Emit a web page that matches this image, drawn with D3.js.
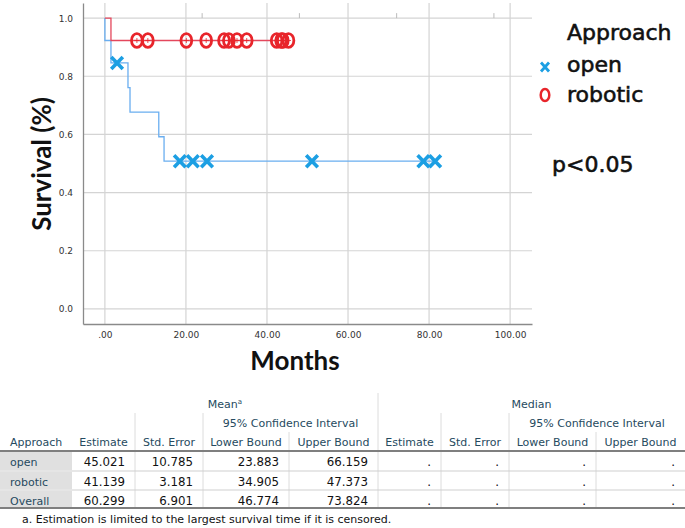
<!DOCTYPE html>
<html>
<head>
<meta charset="utf-8">
<script src="https://cdn.jsdelivr.net/npm/d3@7"></script>
<style>
  body { margin: 0; background: #fff; }
  svg { display: block; }
</style>
</head>
<body>
<div id="chart"></div>
<script>
// Kaplan-Meier curves (months, survival after each event)
var openEventTimes = [0, 1.5, 5.7, 6.2, 13.3, 14.6];
var openSurvival = [0.923, 0.846, 0.761, 0.677, 0.592, 0.508];
var openEnd = 81.5;
var openCensored = [3.0, 18.5, 21.7, 25.2, 51.1, 78.6, 81.5];

var roboticEventTimes = [1.5];
var roboticSurvival = [0.923];
var roboticEnd = 45.3;
var roboticCensored = [7.9, 10.6, 20.1, 25.0, 29.4, 30.6, 32.6, 35.0, 42.4, 43.5, 43.9, 45.3];

var xTicks = [0, 20, 40, 60, 80, 100];
var yTicks = [0, 0.2, 0.4, 0.6, 0.8, 1.0];
var topTicks = [24, 48, 72, 96];

// table
var rowLabels = ["open", "robotic", "Overall"];
var meanEstimate = ["45.021", "41.139", "60.299"];
var meanStdError = ["10.785", "3.181", "6.901"];
var meanLower = ["23.883", "34.905", "46.774"];
var meanUpper = ["66.159", "47.373", "73.824"];
var medianEstimate = [".", ".", "."];
var medianStdError = [".", ".", "."];
var medianLower = [".", ".", "."];
var medianUpper = [".", ".", "."];
var colHeaders = ["Approach", "Estimate", "Std. Error", "Lower Bound", "Upper Bound",
                  "Estimate", "Std. Error", "Lower Bound", "Upper Bound"];

var W = 685, H = 528;
var svg = d3.select("#chart").append("svg").attr("width", W).attr("height", H);

var x = d3.scaleLinear().domain([-5.4, 105.4]).range([83, 532]);
var y = d3.scaleLinear().domain([-0.052, 1.052]).range([324, 3]);

var blueMark = "#1c9fe3", blueLine = "#6aaef0";
var redMark = "#e8252b", redLine = "#e4475c";
var gridCol = "#d4d4d4";

// gridlines
svg.append("g").selectAll("line").data(yTicks).enter().append("line")
  .attr("x1", x.range()[0]).attr("x2", x.range()[1])
  .attr("y1", d => y(d)).attr("y2", d => y(d))
  .attr("stroke", gridCol).attr("stroke-width", 1.2);
svg.append("g").selectAll("line").data(xTicks).enter().append("line")
  .attr("x1", d => x(d)).attr("x2", d => x(d))
  .attr("y1", y.range()[1]).attr("y2", y.range()[0])
  .attr("stroke", gridCol).attr("stroke-width", 1.2);
svg.append("g").selectAll("line").data(topTicks).enter().append("line")
  .attr("x1", d => x(d)).attr("x2", d => x(d))
  .attr("y1", y(1) - 5).attr("y2", y(1))
  .attr("stroke", "#bbb").attr("stroke-width", 1);

// axes
var xAxis = svg.append("g").attr("transform", "translate(0," + y.range()[0] + ")")
  .call(d3.axisBottom(x).tickValues(xTicks).tickSize(0).tickPadding(8)
    .tickFormat(d => d === 0 ? ".00" : d3.format(".2f")(d)));
var yAxis = svg.append("g").attr("transform", "translate(" + x.range()[0] + ",0)")
  .call(d3.axisLeft(y).tickValues(yTicks).tickSize(0).tickPadding(10).tickFormat(d3.format(".1f")));
[xAxis, yAxis].forEach(function(a) {
  a.select(".domain").attr("stroke", "#8a8a8a").attr("stroke-width", 1.3);
  a.selectAll("text").attr("font-family", "DejaVu Sans").attr("font-size", 9).attr("fill", "#333");
});

// step curves
var step = d3.line().x(d => x(d[0])).y(d => y(d[1])).curve(d3.curveStepAfter);
function kmPoints(times, surv, end) {
  var pts = [[0, 1]];
  times.forEach(function(t, i) { pts.push([t, surv[i]]); });
  pts.push([end, surv[surv.length - 1]]);
  return pts;
}
function survAt(times, surv, t) {
  var s = 1;
  times.forEach(function(tt, i) { if (tt <= t) s = surv[i]; });
  return s;
}

svg.append("path").datum(kmPoints(openEventTimes, openSurvival, openEnd))
  .attr("d", step).attr("fill", "none").attr("stroke", blueLine).attr("stroke-width", 1.3);
svg.append("path").datum(kmPoints(roboticEventTimes, roboticSurvival, roboticEnd))
  .attr("d", step).attr("fill", "none").attr("stroke", redLine).attr("stroke-width", 1.3);

// censor marks: robotic circles with a small plus inside
var rob = svg.append("g").selectAll("g").data(roboticCensored).enter().append("g")
  .attr("transform", d => "translate(" + x(d) + "," + y(survAt(roboticEventTimes, roboticSurvival, d)) + ")");
rob.append("ellipse").attr("rx", 5.4).attr("ry", 6.8)
  .attr("fill", "none").attr("stroke", redMark).attr("stroke-width", 2.8);
rob.append("path").attr("d", "M-2.5,0H2.5M0,-2.5V2.5").attr("stroke", redMark).attr("stroke-width", 0.8);

// open: X marks
svg.append("g").selectAll("path").data(openCensored).enter().append("path")
  .attr("transform", d => "translate(" + x(d) + "," + y(survAt(openEventTimes, openSurvival, d)) + ")")
  .attr("d", "M-5.8,-6L5.8,6M5.8,-6L-5.8,6")
  .attr("stroke", blueMark).attr("stroke-width", 3.6).attr("fill", "none");

// axis titles
svg.append("text").attr("x", 295).attr("y", 370).attr("text-anchor", "middle")
  .attr("font-family", "Lato").attr("font-weight", "bold").attr("font-size", 26)
  .attr("fill", "#111").text("Months");
svg.append("text").attr("transform", "translate(51,164) rotate(-90)").attr("text-anchor", "middle")
  .attr("font-family", "Lato").attr("font-weight", "bold").attr("font-size", 26)
  .attr("fill", "#111").text("Survival (%)");

// legend
var leg = svg.append("g").attr("font-family", "DejaVu Sans").attr("font-size", 22)
  .attr("fill", "#111").attr("stroke", "#111").attr("stroke-width", 0.6);
leg.append("text").attr("x", 567).attr("y", 40).text("Approach");
leg.append("text").attr("x", 567).attr("y", 72).text("open");
leg.append("text").attr("x", 567).attr("y", 102).text("robotic");
leg.append("path").attr("transform", "translate(545,67)")
  .attr("d", "M-4,-4.5L4,4.5M4,-4.5L-4,4.5")
  .attr("stroke", blueMark).attr("stroke-width", 2.8).attr("fill", "none");
leg.append("ellipse").attr("cx", 545).attr("cy", 95).attr("rx", 4.3).attr("ry", 6)
  .attr("fill", "none").attr("stroke", redMark).attr("stroke-width", 2.5);
leg.append("text").attr("x", 552).attr("y", 172).text("p<0.05");

// ---- table ----
var colEdges = [0, 72, 135, 203, 289, 378, 441, 509, 596, 685];
var rowTops = [451, 471, 490, 508];
var headCol = "#264a60";
var tbl = svg.append("g").attr("font-family", "DejaVu Sans").attr("font-size", 11);

// gray label cells
tbl.append("rect").attr("x", colEdges[0]).attr("y", rowTops[0])
  .attr("width", colEdges[1] - colEdges[0]).attr("height", rowTops[3] - rowTops[0])
  .attr("fill", "#e0e0e0");

// header vertical lines: [x, top]
var headerVLines = [[378, 393], [135, 413], [203, 413], [441, 413], [509, 413], [289, 432], [596, 432]];
tbl.selectAll(".hv").data(headerVLines).enter().append("line")
  .attr("x1", d => d[0]).attr("x2", d => d[0]).attr("y1", d => d[1]).attr("y2", rowTops[0])
  .attr("stroke", "#dcdcdc");
// body vertical lines
tbl.selectAll(".bv").data(colEdges.slice(2, 9)).enter().append("line")
  .attr("x1", d => d).attr("x2", d => d).attr("y1", rowTops[0]).attr("y2", rowTops[3])
  .attr("stroke", "#dcdcdc");
// row separators
tbl.selectAll(".rs").data(rowTops.slice(1, 3)).enter().append("line")
  .attr("x1", 0).attr("x2", W).attr("y1", d => d).attr("y2", d => d)
  .attr("stroke", "#cfcfcf");
tbl.selectAll(".rs2").data(rowTops.slice(1, 3)).enter().append("line")
  .attr("x1", 0).attr("x2", colEdges[1]).attr("y1", d => d).attr("y2", d => d)
  .attr("stroke", "#f2f2f2");
// thick rules
tbl.selectAll(".tr").data([rowTops[0], rowTops[3]]).enter().append("line")
  .attr("x1", 0).attr("x2", W).attr("y1", d => d).attr("y2", d => d)
  .attr("stroke", "#7f7f7f").attr("stroke-width", 1.8);

// group headers
var mean = tbl.append("text").attr("x", (colEdges[1] + colEdges[5]) / 2).attr("y", 408)
  .attr("text-anchor", "middle").attr("fill", headCol);
mean.append("tspan").text("Mean");
mean.append("tspan").attr("font-size", 7).attr("dy", -4).text("a");
tbl.append("text").attr("x", (colEdges[5] + colEdges[9]) / 2).attr("y", 408)
  .attr("text-anchor", "middle").attr("fill", headCol).text("Median");
[[3, 5], [7, 9]].forEach(function(span) {
  tbl.append("text").attr("x", (colEdges[span[0]] + colEdges[span[1]]) / 2).attr("y", 427)
    .attr("text-anchor", "middle").attr("fill", headCol).text("95% Confidence Interval");
});
tbl.selectAll(".ch").data(colHeaders).enter().append("text")
  .attr("x", (d, i) => i === 0 ? 10 : (colEdges[i] + colEdges[i + 1]) / 2)
  .attr("y", 446)
  .attr("text-anchor", (d, i) => i === 0 ? "start" : "middle")
  .attr("fill", headCol).text(d => d);

// body
var cols = [meanEstimate, meanStdError, meanLower, meanUpper,
            medianEstimate, medianStdError, medianLower, medianUpper];
rowLabels.forEach(function(lbl, r) {
  var yb = rowTops[r] + 15;
  tbl.append("text").attr("x", 10).attr("y", yb).attr("fill", headCol).text(lbl);
  cols.forEach(function(col, c) {
    tbl.append("text").attr("x", colEdges[c + 2] - 10).attr("y", yb)
      .attr("text-anchor", "end").attr("font-size", 11.8).attr("fill", "#111").text(col[r]);
  });
});

tbl.append("text").attr("x", 22).attr("y", 523).attr("fill", "#111")
  .text("a. Estimation is limited to the largest survival time if it is censored.");
</script>
</body>
</html>
